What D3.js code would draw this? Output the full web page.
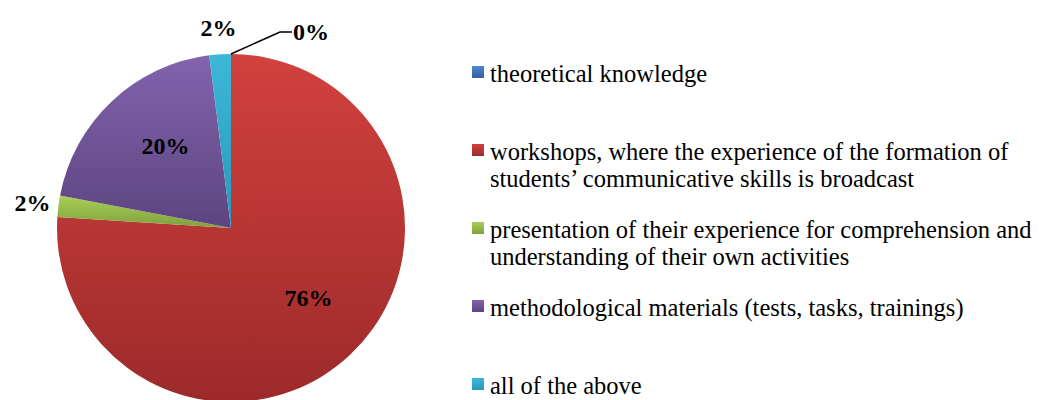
<!DOCTYPE html>
<meta charset="utf-8">
<script src="https://d3js.org/d3.v7.min.js"></script>
<style>
  body { margin: 0; background: #fff; }
  #wrap { position: relative; width: 1051px; height: 400px; }
  .leg { position: absolute; left: 490px; font-family: 'Liberation Serif'; font-size: 24.5px; line-height: 27px; color: #000; white-space: nowrap; }
  svg { position: absolute; left: 0; top: 0; }
</style>
<body>
<div id="wrap"></div>
<script>

// data
var categories = [
  "theoretical knowledge",
  "workshops, where the experience of the formation of|students\u2019 communicative skills is broadcast",
  "presentation of their experience for comprehension and|understanding of their own activities",
  "methodological materials (tests, tasks, trainings)",
  "all of the above"
];
var values = [0, 76, 2, 20, 2];
var colorsTop = ["#5186cc", "#d2413e", "#a9d055", "#8263ad", "#3cb8d9"];
var colorsBottom = ["#3461a0", "#9c2a2a", "#7f9f3e", "#5c4480", "#2a98b8"];

var width = 1051, height = 400;
var cx = 231, cy = 228, radius = 174;

var wrap = d3.select("#wrap");

var svg = wrap.append("svg")
    .attr("width", width)
    .attr("height", height);

// gradients, lighter on top -> darker bottom
var defs = svg.append("defs");
categories.forEach(function(c, i) {
  var lg = defs.append("linearGradient")
    .attr("id", "grad" + i)
    .attr("x1", 0).attr("y1", 0).attr("x2", 0).attr("y2", 1);
  lg.append("stop").attr("offset", "0%").attr("stop-color", colorsTop[i]);
  lg.append("stop").attr("offset", "100%").attr("stop-color", colorsBottom[i]);
});

var data = categories.map(function(c, i) { return { name: c, value: values[i], i: i }; });

var pie = d3.pie()
  .sort(null)
  .value(function(d) { return d.value; });

var arcs = pie(data);
var arc = d3.arc().innerRadius(0).outerRadius(radius);

var g = svg.append("g")
  .attr("transform", "translate(" + cx + "," + cy + ")");

g.selectAll("path.slice")
  .data(arcs.filter(function(d) { return d.data.value > 0; }))
  .enter()
  .append("path")
    .attr("class", "slice")
    .attr("d", arc)
    .attr("fill", function(d) { return "url(#grad" + d.data.i + ")"; });

// data labels
var insideArc = d3.arc().innerRadius(radius * 0.6).outerRadius(radius * 0.6);
var outsideArc = d3.arc().innerRadius(radius + 26).outerRadius(radius + 26);

function addLabel(x, y, txt, anchor) {
  return svg.append("text")
    .attr("x", cx + x).attr("y", cy + y + 8)
    .attr("text-anchor", anchor)
    .attr("font-family", "Liberation Serif")
    .attr("font-size", 24)
    .attr("font-weight", "bold")
    .text(txt);
}

arcs.forEach(function(d) {
  var v = d.data.value;
  var label = v + "%";
  if (v >= 10) {
    var p = insideArc.centroid(d);
    addLabel(p[0] + 6, p[1] - 6, label, "middle");
  } else if (v > 0) {
    var p2 = outsideArc.centroid(d);
    addLabel(p2[0], p2[1], label, "middle");
  } else {
    // zero slice: leader line from the edge
    var a = d.startAngle;
    var x0 = radius * Math.sin(a), y0 = -radius * Math.cos(a);
    var x1 = x0 + 49, y1 = y0 - 22;
    g.append("polyline")
      .attr("points", [[x0, y0], [x1, y1], [x1 + 12, y1]].join(" "))
      .attr("fill", "none")
      .attr("stroke", "#000")
      .attr("stroke-width", 1.5);
    addLabel(x1 + 13, y1, label, "start");
  }
});

// legend: first-line baselines spaced evenly
var ly = d3.scalePoint()
  .domain(d3.range(categories.length))
  .range([81, 393]);

categories.forEach(function(name, i) {
  svg.append("rect")
    .attr("x", 472).attr("y", ly(i) - 15)
    .attr("width", 12).attr("height", 12)
    .attr("fill", "url(#grad" + i + ")");
  var div = wrap.append("div")
    .attr("class", "leg")
    .style("top", (ly(i) - 21.5) + "px");
  name.split("|").forEach(function(line, k) {
    if (k > 0) div.append("br");
    div.append("span").text(line);
  });
});

</script>
</body>
